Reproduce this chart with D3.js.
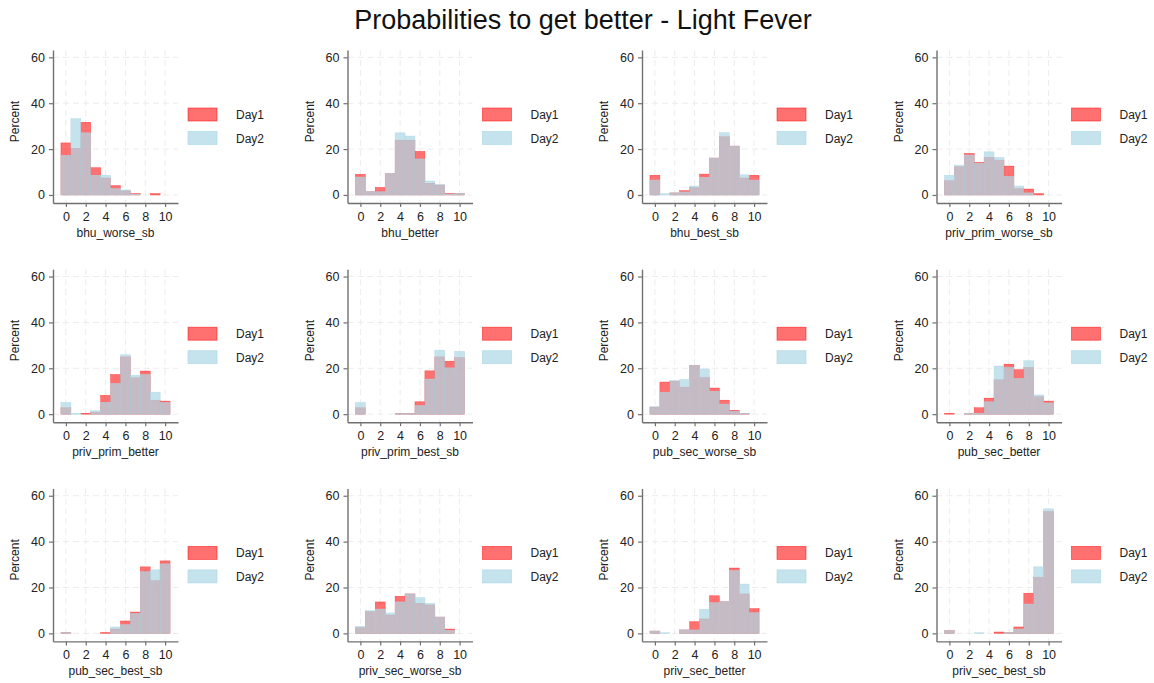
<!DOCTYPE html>
<html>
<head>
<meta charset="utf-8">
<script src="https://cdn.jsdelivr.net/npm/d3@7/dist/d3.min.js"></script>
<style>
  body { margin: 0; background: #fff; }
  svg { font-family: "Liberation Sans", Arial, sans-serif; }
</style>
</head>
<body>
<div id="chart"></div>
<script>
// chart values
const title = "Probabilities to get better - Light Fever";
const varNames = [
  "bhu_worse_sb", "bhu_better", "bhu_best_sb", "priv_prim_worse_sb",
  "priv_prim_better", "priv_prim_best_sb", "pub_sec_worse_sb", "pub_sec_better",
  "pub_sec_best_sb", "priv_sec_worse_sb", "priv_sec_better", "priv_sec_best_sb"
];
const bins = [0, 1, 2, 3, 4, 5, 6, 7, 8, 9, 10];
const xTicks = [0, 2, 4, 6, 8, 10];
const yTicks = [0, 20, 40, 60];
const seriesNames = ["Day1", "Day2"];

// percent per bin, Day1
const day1 = [
  [22.7, 20.3, 31.7, 11.9, 7.4, 4.1, 1.8, 0.6, 0, 0.6, 0],
  [9.0, 1.4, 3.3, 9.3, 23.9, 23.9, 19.0, 5.1, 4.3, 0.7, 0.7],
  [8.6, 0, 0.9, 1.9, 3.2, 9.1, 16.1, 25.4, 21.3, 7.4, 8.6],
  [6.2, 12.3, 18.1, 14.2, 16.4, 15.2, 12.6, 2.8, 2.6, 0.6, 0],
  [2.8, 0, 0.4, 0.9, 8.2, 17.3, 25.0, 15.9, 18.8, 6.1, 5.7],
  [2.8, 0, 0, 0, 0.4, 0.4, 5.4, 18.9, 25.0, 23.1, 24.7],
  [3.1, 14.0, 14.4, 11.8, 21.3, 16.0, 11.4, 6.1, 1.7, 0.4, 0],
  [0.4, 0, 0.4, 2.8, 7.0, 15.0, 21.8, 19.4, 20.4, 7.6, 5.7],
  [0.4, 0, 0, 0, 0.4, 1.9, 5.4, 9.3, 29.0, 23.0, 31.6],
  [2.5, 9.5, 13.7, 8.0, 16.2, 17.2, 13.1, 12.4, 7.1, 1.9, 0],
  [1.0, 0, 0, 1.5, 5.1, 6.3, 16.4, 13.8, 28.5, 17.2, 10.8],
  [1.2, 0, 0, 0, 0, 0.6, 0.4, 2.8, 17.5, 24.5, 53.1]
];
// percent per bin, Day2
const day2 = [
  [17.3, 33.3, 27.1, 8.6, 8.6, 2.8, 2.2, 0.3, 0, 0, 0],
  [7.8, 1.4, 1.4, 9.3, 27.1, 25.7, 15.7, 6.1, 4.6, 0.4, 0.7],
  [6.5, 0.6, 0.9, 1.3, 3.9, 7.7, 16.1, 27.2, 21.3, 8.8, 6.5],
  [8.6, 13.0, 17.4, 13.8, 18.8, 16.4, 8.1, 3.9, 0.9, 0, 0],
  [5.1, 0.4, 0, 1.5, 5.2, 13.4, 25.9, 17.0, 17.3, 9.6, 5.1],
  [5.1, 0, 0, 0, 0.3, 0.3, 3.8, 15.3, 27.9, 20.2, 27.4],
  [3.2, 9.6, 14.6, 15.1, 21.3, 19.7, 10.0, 4.4, 1.3, 0.4, 0],
  [0, 0, 0.4, 0.4, 5.4, 21.0, 20.4, 15.6, 23.3, 8.4, 4.9],
  [0.4, 0, 0, 0, 0, 2.8, 3.8, 8.7, 26.9, 27.7, 30.3],
  [3.1, 9.9, 10.6, 8.9, 13.7, 17.2, 15.6, 13.1, 7.1, 1.3, 0],
  [1.0, 0.3, 0, 1.5, 1.5, 10.5, 13.4, 13.8, 27.4, 21.5, 9.0],
  [1.2, 0, 0, 0.3, 0, 0, 0.4, 1.9, 12.8, 29.0, 54.3]
];

const W = 1154, H = 683;
const colors = ["rgba(255,0,0,0.56)", "rgba(173,216,230,0.72)"];
const strokes = ["rgba(255,0,0,0.6)", "rgba(173,216,230,0.8)"];

const svg = d3.select("#chart").append("svg")
  .attr("width", W)
  .attr("height", H);

svg.append("text")
  .attr("x", 583)
  .attr("y", 29)
  .attr("text-anchor", "middle")
  .attr("font-size", 27)
  .attr("fill", "#111")
  .text(title);

const pw = 125, ph = 153;
const colStep = 294.5, rowStep = 219.2;
const x = d3.scaleLinear().domain([-1.3, 11.3]).range([0, pw]);
const y = d3.scaleLinear().domain([-3.5, 63.2]).range([ph, 0]);

varNames.forEach((name, i) => {
  const col = i % 4, row = Math.floor(i / 4);
  const g = svg.append("g")
    .attr("transform", `translate(${53 + col * colStep},${50 + row * rowStep})`);

  // grid
  g.append("g").selectAll("line.h").data(yTicks).join("line")
    .attr("x1", 0).attr("x2", pw)
    .attr("y1", d => y(d)).attr("y2", d => y(d))
    .attr("stroke", "#ececec").attr("stroke-dasharray", "6,4");
  g.append("g").selectAll("line.v").data(xTicks).join("line")
    .attr("x1", d => x(d)).attr("x2", d => x(d))
    .attr("y1", 0).attr("y2", ph)
    .attr("stroke", "#ececec").attr("stroke-dasharray", "6,4");

  // bars: Day1 below, Day2 on top
  [day1[i], day2[i]].forEach((vals, s) => {
    g.append("g").selectAll("rect")
      .data(bins.filter(b => vals[b] > 0))
      .join("rect")
      .attr("x", b => x(b - 0.5))
      .attr("width", b => x(b + 0.5) - x(b - 0.5))
      .attr("y", b => y(vals[b]))
      .attr("height", b => y(0) - y(vals[b]))
      .attr("fill", colors[s])
      .attr("stroke", strokes[s])
      .attr("stroke-width", 0.5);
  });

  // axes
  const ya = g.append("g")
    .call(d3.axisLeft(y).tickValues(yTicks).tickSize(4).tickSizeOuter(0).tickPadding(4));
  const xa = g.append("g")
    .attr("transform", `translate(0,${ph})`)
    .call(d3.axisBottom(x).tickValues(xTicks).tickSize(4).tickSizeOuter(0).tickPadding(5));
  [ya, xa].forEach(a => {
    a.select(".domain").attr("stroke", "#707070").attr("stroke-width", 1.4);
    a.selectAll(".tick line").attr("stroke", "#707070").attr("stroke-width", 1.2);
    a.selectAll(".tick text").attr("font-size", 12.5).attr("fill", "#222")
      .attr("font-family", "Liberation Sans, Arial, sans-serif");
  });

  g.append("text")
    .attr("transform", `translate(-34,${ph / 2 - 5}) rotate(-90)`)
    .attr("text-anchor", "middle")
    .attr("font-size", 12)
    .attr("fill", "#222")
    .text("Percent");
  g.append("text")
    .attr("x", pw / 2)
    .attr("y", ph + 34)
    .attr("text-anchor", "middle")
    .attr("font-size", 12)
    .attr("fill", "#222")
    .text(name);

  // legend
  const lg = g.append("g").attr("transform", `translate(135,58)`);
  seriesNames.forEach((s, k) => {
    lg.append("rect")
      .attr("x", 0).attr("y", k * 23.5)
      .attr("width", 29).attr("height", 13)
      .attr("fill", colors[k])
      .attr("stroke", strokes[k]).attr("stroke-width", 0.8);
    lg.append("text")
      .attr("x", 48).attr("y", k * 23.5 + 11)
      .attr("font-size", 12)
      .attr("fill", "#222")
      .text(s);
  });
});
</script>
</body>
</html>
